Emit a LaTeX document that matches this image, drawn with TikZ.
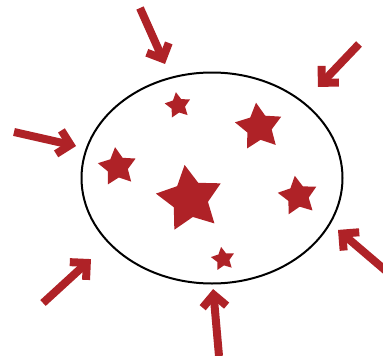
\documentclass[tikz,border=0pt]{standalone}
\usetikzlibrary{shapes.geometric,calc}
\definecolor{starred}{RGB}{175,34,39}
\tikzset{
  redstar/.style={star, star points=5, star point ratio=1.9, fill=starred, draw=none, inner sep=0pt, outer sep=0pt},
  shaft/.style={draw=starred, line width=8pt, line cap=butt},
  barb/.style={draw=starred, line width=8pt, line cap=butt, line join=miter},
}
\begin{document}
\begin{tikzpicture}[x=1pt,y=-1pt]
\useasboundingbox (0,0) rectangle (383,356);
\node[ellipse, draw=black, line width=2pt, minimum width=261pt, minimum height=211pt, inner sep=0pt] (cell) at (212,178) {};
% stars
\node[redstar, minimum size=69pt, rotate=9] (s1) at (190,199) {};
\node[redstar, minimum size=49pt, rotate=7] (s2) at (259,127) {};
\node[redstar, minimum size=27pt, rotate=9] (s3) at (178,105.5) {};
\node[redstar, minimum size=40pt, rotate=7] (s4) at (117.5,167) {};
\node[redstar, minimum size=41pt, rotate=9] (s5) at (298,196) {};
\node[redstar, minimum size=24.5pt, rotate=9] (s6) at (223,259) {};
% arrows
\coordinate (t1) at (140,8);    \coordinate (h1) at (162.7,58.8);
\coordinate (t2) at (359,44);   \coordinate (h2) at (321.9,82.9);
\coordinate (t3) at (14,132);   \coordinate (h3) at (70.5,144.8);
\coordinate (t4) at (43,303);   \coordinate (h4) at (86.8,262.9);
\coordinate (t5) at (219,356);  \coordinate (h5) at (213.6,294.7);
\coordinate (t6) at (392,276);  \coordinate (h6) at (342.3,233.6);
\foreach \i in {1,...,6}{
  \draw[shaft] (t\i) -- ($(h\i)!3pt!(t\i)$);
  \draw[barb] ($(h\i)!17pt!45:(t\i)$) -- (h\i) -- ($(h\i)!17pt!-45:(t\i)$);
}
\end{tikzpicture}
\end{document}
